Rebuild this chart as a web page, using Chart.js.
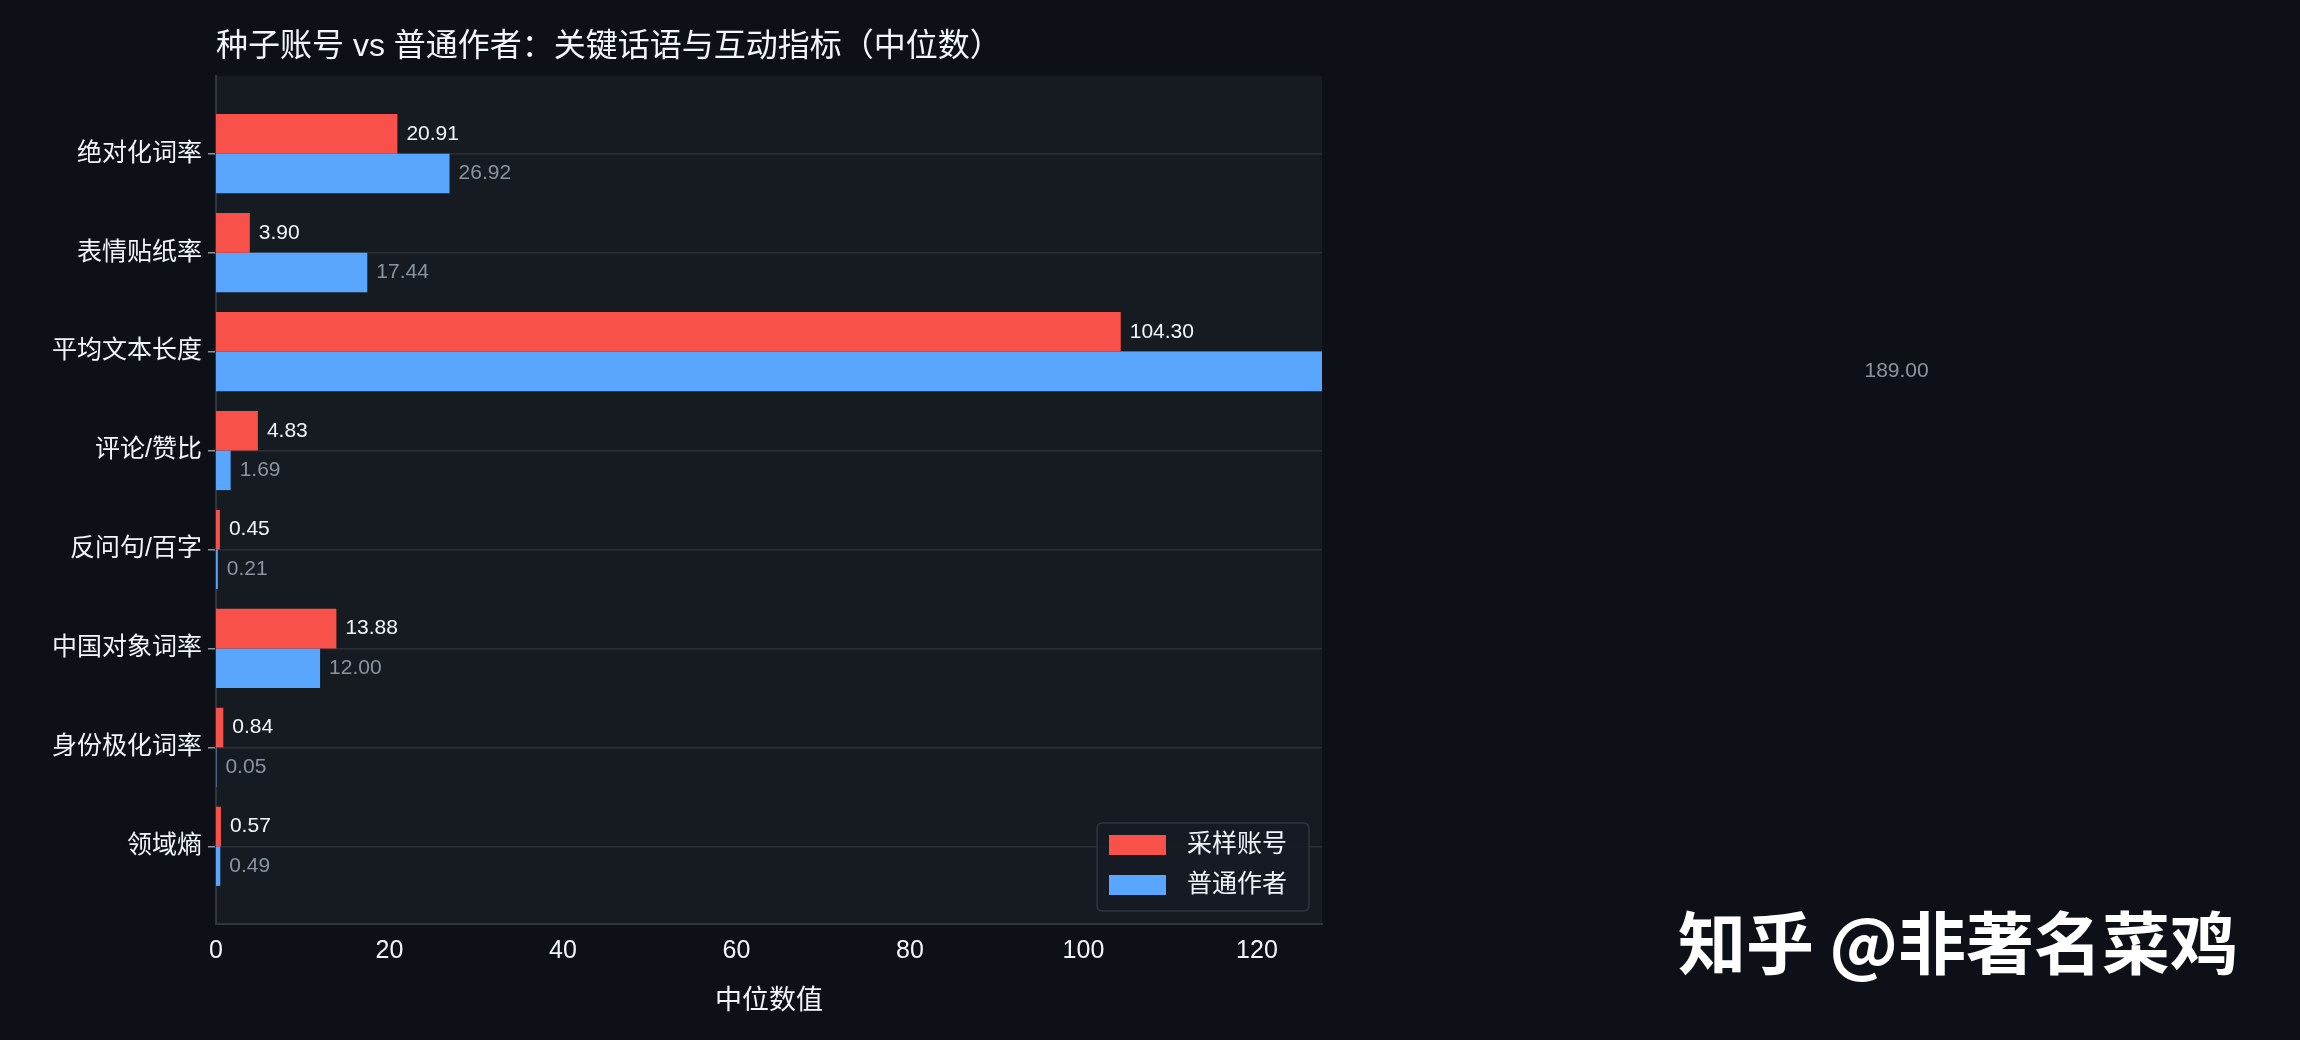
<!DOCTYPE html>
<html><head><meta charset="utf-8">
<script src="https://cdn.jsdelivr.net/npm/chart.js@4.4.1/dist/chart.umd.min.js"></script>
<style>
html,body{margin:0;padding:0;background:#0d1117;}
#wrap{width:2300px;height:1040px;position:relative;}
</style></head>
<body><div id="wrap"><canvas id="c"></canvas></div>
<script>
const categories = ['绝对化词率','表情贴纸率','平均文本长度','评论/赞比','反问句/百字','中国对象词率','身份极化词率','领域熵'];
const seedVals = [20.91, 3.90, 104.30, 4.83, 0.45, 13.88, 0.84, 0.57];
const normalVals = [26.92, 17.44, 189.00, 1.69, 0.21, 12.00, 0.05, 0.49];
const seriesNames = ['采样账号','普通作者'];
const xTicks = [0, 20, 40, 60, 80, 100, 120];

const FONT = '"Liberation Sans", "Noto Sans CJK SC", sans-serif';
const RED = '#f85149', BLUE = '#58a6ff';

const deco = {
  id: 'deco',
  beforeDraw(chart) {
    const {ctx, chartArea: a} = chart;
    ctx.save();
    ctx.fillStyle = '#161b22';
    ctx.fillRect(a.left, a.top, a.right - a.left, a.bottom - a.top);
    ctx.restore();
  },
  afterDraw(chart) {
    const {ctx} = chart;
    const xs = chart.scales.x;
    ctx.save();
    ctx.fillStyle = '#f0f6fc';
    ctx.font = '32px ' + FONT;
    ctx.textBaseline = 'middle';
    ctx.fillText('种子账号 vs 普通作者：关键话语与互动指标（中位数）', 216, 47);
    ctx.font = '21px ' + FONT;
    chart.data.datasets.forEach((ds, i) => {
      const meta = chart.getDatasetMeta(i);
      ctx.fillStyle = i === 0 ? '#f0f6fc' : '#8b949e';
      meta.data.forEach((bar, j) => {
        const v = ds.data[j].x;
        ctx.fillText(v.toFixed(2), xs.getPixelForValue(v) + 9, bar.y);
      });
    });
    const lx = 1097, ly = 823, lw = 212, lh = 88;
    ctx.fillStyle = 'rgba(22,27,34,0.9)';
    ctx.strokeStyle = '#30363d';
    ctx.lineWidth = 1.5;
    ctx.beginPath(); ctx.roundRect(lx, ly, lw, lh, 5); ctx.fill(); ctx.stroke();
    ctx.font = '25px ' + FONT;
    [[RED, seriesNames[0], ly + 22], [BLUE, seriesNames[1], ly + 62]].forEach(([c, t, y]) => {
      ctx.fillStyle = c;
      ctx.fillRect(lx + 12, y - 10, 57, 20);
      ctx.fillStyle = '#f0f6fc';
      ctx.fillText(t, lx + 90, y);
    });
    ctx.fillStyle = '#ffffff';
    ctx.font = 'bold 68px "Noto Sans CJK SC", sans-serif';
    ctx.fillText('知乎 @非著名菜鸡', 1678, 943);
    ctx.restore();
  }
};

new Chart(document.getElementById('c'), {
  type: 'bar',
  data: {
    labels: categories,
    datasets: [
      {label: seriesNames[0], data: seedVals.map((v, i) => ({x: v, y: i})), backgroundColor: RED},
      {label: seriesNames[1], data: normalVals.map((v, i) => ({x: v, y: i})), backgroundColor: BLUE}
    ]
  },
  options: {
    indexAxis: 'y',
    responsive: true,
    maintainAspectRatio: false,
    animation: false,
    devicePixelRatio: 1,
    categoryPercentage: 0.8,
    barPercentage: 1.0,
    layout: {padding: {top: 76, right: 978, bottom: 22, left: 0}},
    plugins: {legend: {display: false}, tooltip: {enabled: false}},
    scales: {
      x: {
        min: 0, max: 127.5,
        afterFit: s => { s.height = 94; },
        afterBuildTicks: s => { s.ticks = xTicks.map(v => ({value: v})); },
        grid: {display: false, drawTicks: true, tickLength: 8, tickColor: '#8b949e'},
        border: {color: '#30363d', width: 2},
        ticks: {color: '#f0f6fc', font: {size: 25, family: FONT}, padding: 4},
        title: {display: true, text: '中位数值', color: '#f0f6fc', font: {size: 27, family: FONT}, padding: {top: 2, bottom: 0}}
      },
      y: {
        type: 'linear',
        reverse: true,
        offset: false,
        min: -0.785, max: 7.785,
        afterFit: s => { s.width = 216; },
        afterBuildTicks: s => { s.ticks = categories.map((c, i) => ({value: i})); },
        grid: {offset: false, color: '#2a3038', lineWidth: 1.5, tickLength: 8, tickColor: '#8b949e'},
        border: {color: '#30363d', width: 2},
        ticks: {color: '#f0f6fc', font: {size: 25, family: FONT}, padding: 6, callback: v => categories[v]}
      }
    }
  },
  plugins: [deco]
});
</script></body></html>
